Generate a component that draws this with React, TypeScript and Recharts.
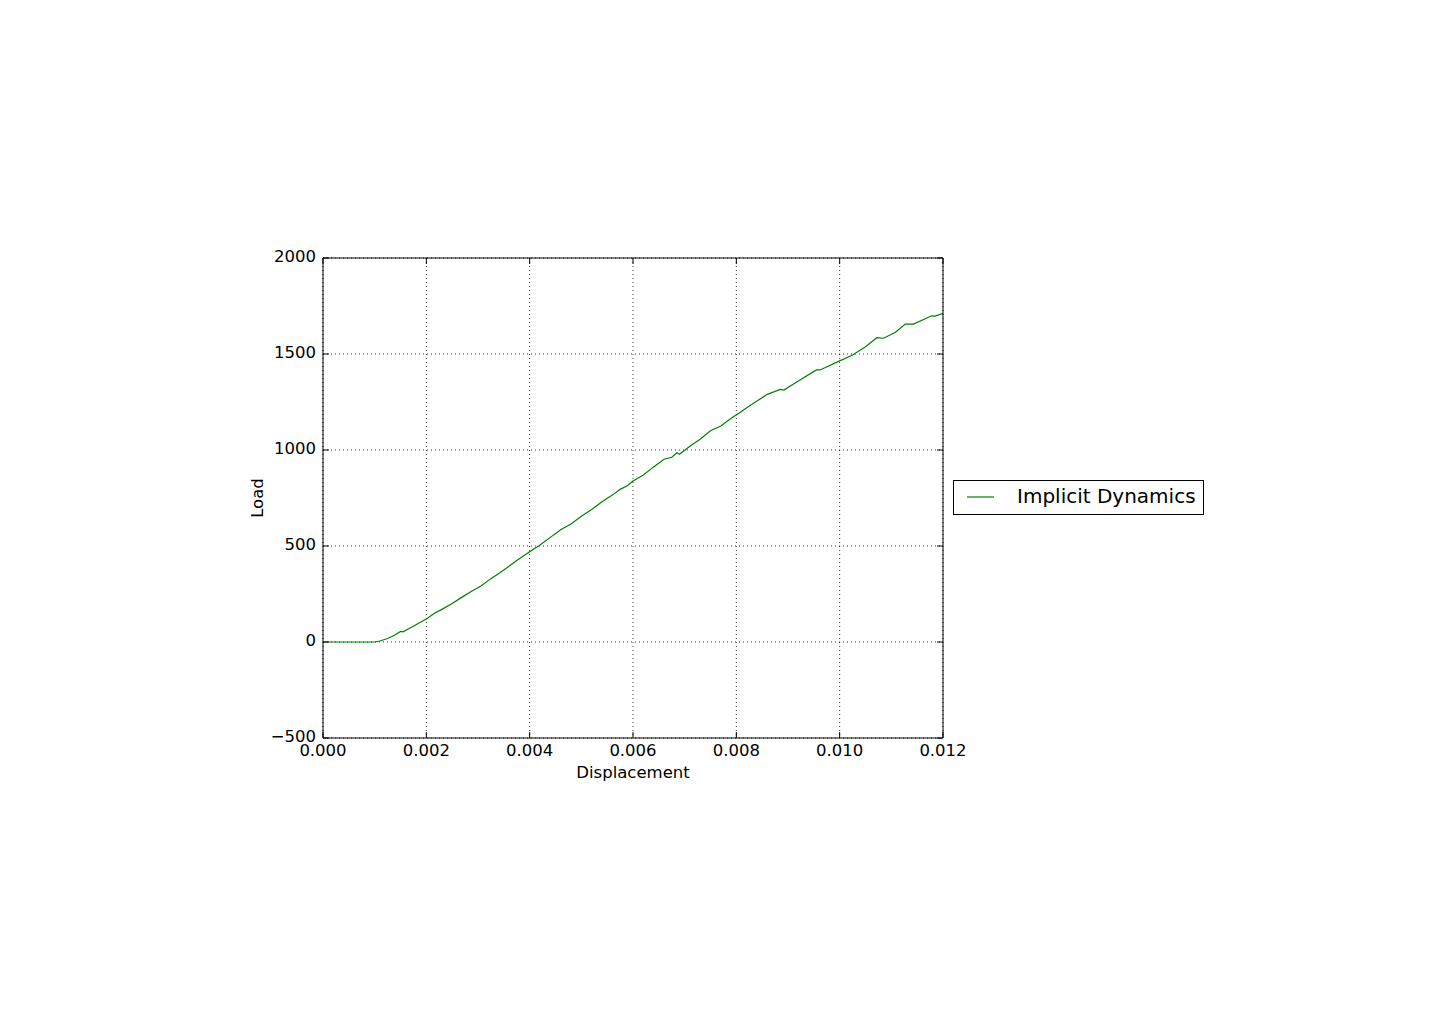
import React from 'react';
import { LineChart, Line, XAxis, YAxis, CartesianGrid, Legend } from 'recharts';

// displacement samples and the load read at each
const displacement = [
  0, 0.0005, 0.001, 0.0011, 0.00125, 0.0014, 0.0015, 0.00155, 0.00165, 0.00175,
  0.00185, 0.002, 0.00215, 0.0023, 0.0025, 0.0027, 0.0029, 0.00305, 0.00325, 0.0035,
  0.00375, 0.004, 0.0042, 0.0044, 0.0046, 0.0048, 0.005, 0.0052, 0.0054, 0.0056,
  0.00575, 0.0059, 0.006, 0.0062, 0.0064, 0.0066, 0.00675, 0.00685, 0.0069, 0.0071,
  0.0073, 0.0075, 0.0077, 0.0079, 0.00805, 0.0082, 0.0084, 0.0086, 0.00885, 0.00892,
  0.0092, 0.00955, 0.00962, 0.01, 0.01025, 0.0105, 0.01072, 0.01085, 0.01108, 0.01127,
  0.01143, 0.01178, 0.01185, 0.012,
];
const load = [
  0, 0, 0, 5, 18, 38, 55, 53, 68, 82,
  98, 120, 148, 170, 200, 235, 268, 290, 330, 375,
  425, 470, 505, 545, 585, 615, 655, 690, 730, 765,
  795, 815, 838, 870, 912, 952, 962, 986, 978, 1020,
  1056, 1100, 1125, 1165, 1192, 1220, 1255, 1290, 1316, 1312,
  1359, 1417, 1417, 1464, 1495, 1538, 1585, 1582, 1613, 1656,
  1656, 1699, 1697, 1712,
];

const xTicks = [0, 0.002, 0.004, 0.006, 0.008, 0.01, 0.012];
const yTicks = [-500, 0, 500, 1000, 1500, 2000];
const seriesName = 'Implicit Dynamics';

const data = displacement.map((d, i) => ({ d, load: load[i] }));

const LINE_COLOR = '#008000';
const FONT = 'DejaVu Sans, sans-serif';
const tickFont = { fill: '#000', fontSize: 16.5, fontFamily: FONT };
const noTick = () => <g />;

const LegendBox = () => (
  <div
    style={{
      width: 251,
      height: 35,
      border: '1px solid #000',
      background: '#fff',
      boxSizing: 'border-box',
      position: 'relative',
      fontFamily: FONT,
      fontSize: 20,
    }}
  >
    <svg width={40} height={33} style={{ position: 'absolute', left: 0, top: 0 }}>
      <line x1={13} x2={43} y1={16} y2={16} stroke={LINE_COLOR} strokeWidth={1.2} />
    </svg>
    <span style={{ position: 'absolute', left: 63, top: 3, whiteSpace: 'nowrap', color: '#000' }}>
      {seriesName}
    </span>
  </div>
);

export default function App() {
  return (
    <div style={{ position: 'absolute', left: 0, top: 0, width: 1454, height: 1030, background: '#fff' }}>
      <LineChart
        width={1454}
        height={1030}
        data={data}
        margin={{ top: 257, right: 510, left: 263, bottom: 262 }}
      >
        <CartesianGrid
          xAxisId="b"
          yAxisId="l"
          stroke="#000"
          strokeWidth={0.8}
          strokeDasharray="1 3"
          vertical
          horizontal
        />
        <XAxis
          xAxisId="b"
          dataKey="d"
          type="number"
          domain={[0, 0.012]}
          ticks={xTicks}
          tickFormatter={(v: number) => v.toFixed(3)}
          tick={tickFont}
          tickSize={-6}
          tickMargin={12}
          height={30}
          stroke="#000"
          interval={0}
          allowDataOverflow
          label={{ value: 'Displacement', position: 'insideBottom', offset: -10, fill: '#000', fontSize: 16.5, fontFamily: FONT }}
        />
        <XAxis
          xAxisId="t"
          orientation="top"
          dataKey="d"
          type="number"
          domain={[0, 0.012]}
          ticks={xTicks}
          tick={noTick}
          tickSize={-6}
          height={1}
          stroke="#000"
          interval={0}
          allowDataOverflow
        />
        <YAxis
          yAxisId="l"
          type="number"
          domain={[-500, 2000]}
          ticks={yTicks}
          tickFormatter={(v: number) => String(v).replace('-', '\u2212')}
          tick={{ ...tickFont, dy: -2 }}
          tickSize={-6}
          tickMargin={13}
          width={60}
          stroke="#000"
          interval={0}
          allowDataOverflow
          label={{ value: 'Load', angle: -90, position: 'insideLeft', offset: -6, fill: '#000', fontSize: 16.5, fontFamily: FONT, style: { textAnchor: 'middle' } }}
        />
        <YAxis
          yAxisId="r"
          orientation="right"
          type="number"
          domain={[-500, 2000]}
          ticks={yTicks}
          tick={noTick}
          tickSize={-6}
          width={1}
          stroke="#000"
          interval={0}
          allowDataOverflow
        />
        <Legend
          layout="vertical"
          align="center"
          verticalAlign="middle"
          content={() => <LegendBox />}
          wrapperStyle={{ left: 953, top: 480, width: 251 }}
        />
        <Line
          xAxisId="b"
          yAxisId="l"
          type="linear"
          dataKey="load"
          name={seriesName}
          stroke={LINE_COLOR}
          strokeWidth={1.2}
          dot={false}
          isAnimationActive={false}
        />
      </LineChart>
    </div>
  );
}
